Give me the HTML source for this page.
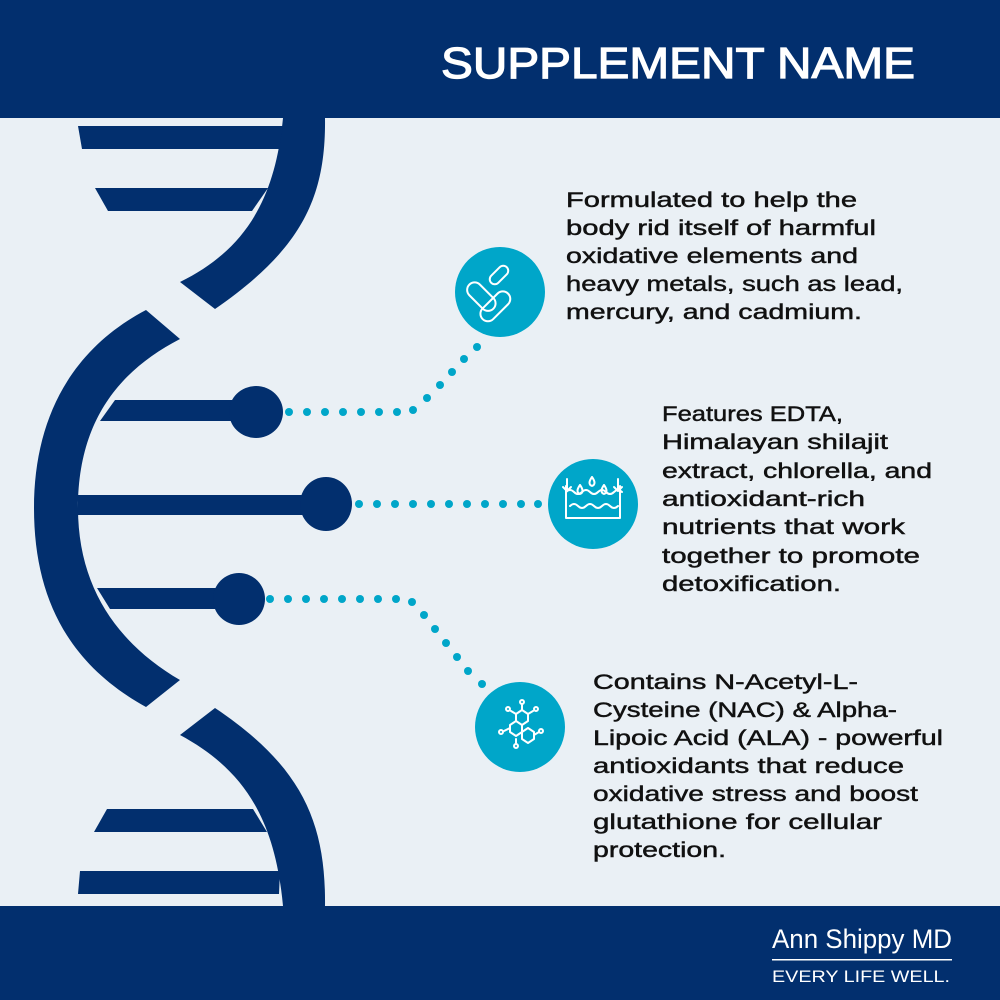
<!DOCTYPE html>
<html><head><meta charset="utf-8"><style>
html,body{margin:0;padding:0;background:#eaf0f5}
svg{display:block}
.t{font-family:"Liberation Sans",sans-serif;font-size:21px;fill:#111;stroke:#111;stroke-width:0.45}
</style></head><body>
<svg width="1000" height="1000" viewBox="0 0 1000 1000" xmlns="http://www.w3.org/2000/svg">
<rect width="1000" height="1000" fill="#eaf0f5"/>
<g fill="#022f6e">
<path d="M283,118 L325,118 C326,200 300,250 215,309 L180,282 C245,250 275,200 283,118 Z"/>
<path d="M146,310 L180,339 C120,370 78,420 78,508 C78,590 120,645 180,680 L146,707 C70,665 34,600 34,508 C34,420 70,350 146,310 Z"/>
<path d="M180,735 L215,708 C300,765 326,820 325,906 L283,906 C275,820 245,770 180,735 Z"/>
<path d="M78,126 L283,126 L279,149 L82,149 Z"/>
<path d="M95,188 L268,188 L252,211 L108,211 Z"/>
<path d="M115,400 L235,400 L235,421 L100,421 Z"/>
<ellipse cx="256" cy="412" rx="27" ry="26"/>
<rect x="78" y="495" width="230" height="20"/>
<ellipse cx="326" cy="504" rx="26" ry="27"/>
<path d="M97,588 L220,588 L220,609 L110,609 Z"/>
<ellipse cx="239" cy="599" rx="26" ry="26"/>
<path d="M107,809 L253,809 L267,832 L94,832 Z"/>
<path d="M80,871 L280,871 L279,894 L78,894 Z"/>
<rect x="0" y="0" width="1000" height="118"/>
<rect x="0" y="906" width="1000" height="94"/>
</g>
<g fill="#00a6c9">
<circle cx="289" cy="412" r="4"/><circle cx="307" cy="412" r="4"/><circle cx="325" cy="412" r="4"/><circle cx="343" cy="412" r="4"/><circle cx="361" cy="412" r="4"/><circle cx="379" cy="412" r="4"/><circle cx="397" cy="412" r="4"/><circle cx="413" cy="410" r="4"/>
<circle cx="427" cy="398" r="4"/><circle cx="440" cy="385" r="4"/><circle cx="452" cy="372" r="4"/><circle cx="464" cy="359" r="4"/><circle cx="477" cy="347" r="4"/>
<circle cx="359" cy="504" r="4"/><circle cx="377" cy="504" r="4"/><circle cx="395" cy="504" r="4"/><circle cx="413" cy="504" r="4"/><circle cx="431" cy="504" r="4"/><circle cx="449" cy="504" r="4"/><circle cx="467" cy="504" r="4"/><circle cx="485" cy="504" r="4"/><circle cx="503" cy="504" r="4"/><circle cx="521" cy="504" r="4"/><circle cx="538" cy="504" r="4"/>
<circle cx="270" cy="599" r="4"/><circle cx="288" cy="599" r="4"/><circle cx="306" cy="599" r="4"/><circle cx="324" cy="599" r="4"/><circle cx="342" cy="599" r="4"/><circle cx="360" cy="599" r="4"/><circle cx="378" cy="599" r="4"/><circle cx="396" cy="599" r="4"/><circle cx="412" cy="602" r="4"/>
<circle cx="424" cy="615" r="4"/><circle cx="435" cy="629" r="4"/><circle cx="446" cy="643" r="4"/><circle cx="457" cy="657" r="4"/><circle cx="468" cy="671" r="4"/><circle cx="482" cy="684" r="4"/>
<circle cx="500" cy="292" r="45"/>
<circle cx="593" cy="504" r="45"/>
<circle cx="520" cy="727" r="45"/>
</g>
<g fill="none" stroke="#fff" stroke-width="2" stroke-linecap="round" stroke-linejoin="round">
<rect x="494" y="264" width="10" height="22" rx="5" transform="rotate(45 499 275)"/>
<rect x="474" y="280" width="15" height="34" rx="7.5" transform="rotate(-45 481 297)"/>
<rect x="488" y="288" width="15" height="36" rx="7.5" transform="rotate(45 495 306)"/>
<path d="M566,486 v32 h54 v-32"/>
<path d="M566,492 q4,-4 8,0 q4,4 8,0 q4,-4 8,0 q4,4 8,0 q4,-4 8,0 q4,4 8,0 q4,-4 8,0"/>
<path d="M570,506 q4,-4 8,0 q4,4 8,0 q4,-4 8,0 q4,4 8,0 q4,-4 8,0 q4,4 8,0"/>
<path d="M567,479 v12 m-4,-4 l4,4 l4,-4 M618,479 v12 m-4,-4 l4,4 l4,-4"/>
<path d="M592,477 q-5,7 0,9 q5,-2 0,-9 M580,485 q-5,7 0,9 q5,-2 0,-9 M604,485 q-5,7 0,9 q5,-2 0,-9"/>
<path d="M516,714 l6,-4 l6,4 v7 l-6,4 l-6,-4 Z M510,725 l6,-4 l6,4 v7 l-6,4 l-6,-4 Z M522,732 l6,-4 l6,4 v7 l-6,4 l-6,-4 Z"/>
<path d="M522,710 v-5 M528,714 l5,-3 M516,714 l-5,-3 M510,728 l-6,3 M534,735 l5,-3 M516,739 v4"/>
<circle cx="522" cy="702" r="2"/><circle cx="536" cy="709" r="2"/><circle cx="508" cy="709" r="2"/><circle cx="501" cy="732" r="2"/><circle cx="541" cy="731" r="2"/><circle cx="516" cy="746" r="2"/>
</g>
<text x="915" y="78" text-anchor="end" font-family="Liberation Sans, sans-serif" font-size="44" fill="#fff" stroke="#fff" stroke-width="1.2" textLength="474" lengthAdjust="spacingAndGlyphs">SUPPLEMENT NAME</text>
<g class="t">
<text x="566" y="207" textLength="291" lengthAdjust="spacingAndGlyphs">Formulated to help the</text>
<text x="566" y="235" textLength="310" lengthAdjust="spacingAndGlyphs">body rid itself of harmful</text>
<text x="566" y="263" textLength="292" lengthAdjust="spacingAndGlyphs">oxidative elements and</text>
<text x="566" y="291" textLength="337" lengthAdjust="spacingAndGlyphs">heavy metals, such as lead,</text>
<text x="566" y="319" textLength="296" lengthAdjust="spacingAndGlyphs">mercury, and cadmium.</text>
<text x="662" y="421" textLength="181" lengthAdjust="spacingAndGlyphs">Features EDTA,</text>
<text x="662" y="449" textLength="226" lengthAdjust="spacingAndGlyphs">Himalayan shilajit</text>
<text x="662" y="478" textLength="270" lengthAdjust="spacingAndGlyphs">extract, chlorella, and</text>
<text x="662" y="506" textLength="203" lengthAdjust="spacingAndGlyphs">antioxidant-rich</text>
<text x="662" y="534" textLength="243" lengthAdjust="spacingAndGlyphs">nutrients that work</text>
<text x="662" y="563" textLength="258" lengthAdjust="spacingAndGlyphs">together to promote</text>
<text x="662" y="591" textLength="179" lengthAdjust="spacingAndGlyphs">detoxification.</text>
<text x="593" y="689" textLength="265" lengthAdjust="spacingAndGlyphs">Contains N-Acetyl-L-</text>
<text x="593" y="717" textLength="304" lengthAdjust="spacingAndGlyphs">Cysteine (NAC) &amp; Alpha-</text>
<text x="593" y="745" textLength="350" lengthAdjust="spacingAndGlyphs">Lipoic Acid (ALA) - powerful</text>
<text x="593" y="773" textLength="311" lengthAdjust="spacingAndGlyphs">antioxidants that reduce</text>
<text x="593" y="801" textLength="325" lengthAdjust="spacingAndGlyphs">oxidative stress and boost</text>
<text x="593" y="829" textLength="289" lengthAdjust="spacingAndGlyphs">glutathione for cellular</text>
<text x="593" y="857" textLength="133" lengthAdjust="spacingAndGlyphs">protection.</text>
</g>
<text x="772" y="948" font-family="Liberation Sans, sans-serif" font-size="27" fill="#fff" textLength="180" lengthAdjust="spacingAndGlyphs">Ann Shippy MD</text>
<rect x="772" y="959" width="180" height="1.5" fill="#fff"/>
<text x="772" y="982" font-family="Liberation Sans, sans-serif" font-size="17" fill="#fff" textLength="178" lengthAdjust="spacingAndGlyphs">EVERY LIFE WELL.</text>
</svg>
</body></html>
